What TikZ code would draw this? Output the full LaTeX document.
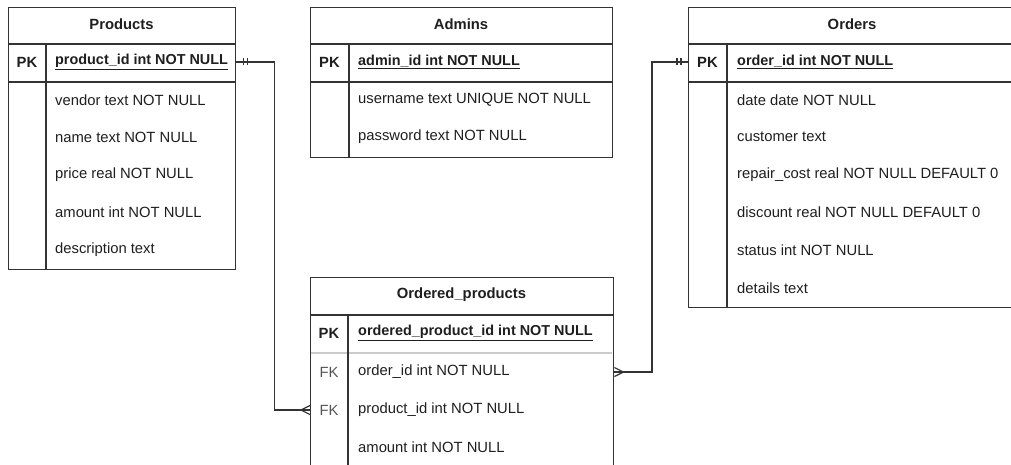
\documentclass[tikz,border=0pt]{standalone}
\usepackage{fontspec}
\setmainfont{Liberation Sans}
\usetikzlibrary{decorations.markings}

\definecolor{edgegray}{HTML}{333333}
\definecolor{softgray}{HTML}{CCCCCC}
\definecolor{inkgray}{HTML}{1E1E1E}
\definecolor{fkgray}{HTML}{555555}

\newcommand{\tblfont}{\fontsize{14.8}{17}\selectfont}
\newcommand{\keyfont}{\fontsize{14.4}{17}\selectfont\bfseries}

\tikzstyle{tbl} = [draw=edgegray, line width=1.3pt, anchor=north west, inner sep=0pt]
\tikzstyle{sep} = [draw=edgegray, line width=1.3pt]
\tikzstyle{hdr} = [font=\tblfont\bfseries, text=inkgray, inner sep=0pt]
\tikzstyle{pk} = [font=\tblfont\bfseries, text=inkgray, inner sep=0pt]
\tikzstyle{fk} = [font=\tblfont, text=fkgray, inner sep=0pt]
\tikzstyle{fld} = [font=\tblfont, anchor=west, text=inkgray, inner sep=0pt]
\tikzstyle{pkfld} = [fld, font=\keyfont]
\tikzstyle{rel} = [draw=edgegray, line width=1.2pt]
% two bars near the start of a relation: exactly one
\tikzstyle{one start} = [postaction={decorate, decoration={markings,
    mark=at position 7pt with {\draw[rel] (0,-3.5pt) -- (0,3.5pt);},
    mark=at position 11pt with {\draw[rel] (0,-3.5pt) -- (0,3.5pt);}}}]
% crow's foot at the end of a relation: many
\tikzstyle{many end} = [postaction={decorate, decoration={markings,
    mark=at position -0.1pt with {\draw[rel] (-9pt,0) -- (0,4.5pt) (-9pt,0) -- (0,-4.5pt);}}}]

\begin{document}
\begin{tikzpicture}[x=1pt, y=-1pt]
    \useasboundingbox (0,0) rectangle (1011,465);
    \clip (0,0) rectangle (1011,465);

    % Products
    \node[tbl, minimum width=227, minimum height=262] (products) at (8,7) {};
    \draw[sep] (8,44) -- (235,44);
    \draw[sep] (8,82) -- (235,82);
    \draw[sep] (46,44) -- (46,269);
    \node[hdr] (products-title) at (121.5,24) {Products};
    \node[pk] (p-key) at (27,62) {PK};
    \node[pkfld] (p-pk) at (55,62) {\underline{product\_id int NOT NULL}};
    \node[fld] (p-vendor) at (55,100) {vendor text NOT NULL};
    \node[fld] (p-name) at (55,137) {name text NOT NULL};
    \node[fld] (p-price) at (55,175) {price real NOT NULL};
    \node[fld] (p-amount) at (55,212) {amount int NOT NULL};
    \node[fld] (p-desc) at (55,250) {description text};

    % Admins
    \node[tbl, minimum width=302, minimum height=150] (admins) at (310,7) {};
    \draw[sep] (310,44) -- (612,44);
    \draw[sep] (310,82) -- (612,82);
    \draw[sep] (349,44) -- (349,157);
    \node[hdr] (admins-title) at (461,24) {Admins};
    \node[pk] (a-key) at (329.5,62) {PK};
    \node[pkfld] (a-pk) at (358,62) {\underline{admin\_id int NOT NULL}};
    \node[fld] (a-user) at (358,100) {username text UNIQUE NOT NULL};
    \node[fld] (a-pass) at (358,137) {password text NOT NULL};

    % Orders
    \node[tbl, minimum width=328, minimum height=300] (orders) at (688,7) {};
    \draw[sep] (688,44) -- (1016,44);
    \draw[sep] (688,82) -- (1016,82);
    \draw[sep] (727,44) -- (727,307);
    \node[hdr] (orders-title) at (852,24) {Orders};
    \node[pk] (o-key) at (707.5,62) {PK};
    \node[pkfld] (o-pk) at (737,62) {\underline{order\_id int NOT NULL}};
    \node[fld] (o-date) at (737,100) {date date NOT NULL};
    \node[fld] (o-customer) at (737,137) {customer text};
    \node[fld] (o-repair) at (737,175) {repair\_cost real NOT NULL DEFAULT 0};
    \node[fld] (o-discount) at (737,212) {discount real NOT NULL DEFAULT 0};
    \node[fld] (o-status) at (737,250) {status int NOT NULL};
    \node[fld] (o-details) at (737,288) {details text};

    % Ordered_products
    \node[tbl, minimum width=303, minimum height=188.5] (ordered) at (310,277) {};
    \draw[sep] (310,315) -- (613,315);
    \draw[sep, draw=softgray] (311,353) -- (612,353);
    \draw[sep] (348,315) -- (348,466);
    \node[hdr] (ordered-title) at (461.5,295) {Ordered\_products};
    \node[pk] (op-key) at (329,333) {PK};
    \node[pkfld] (op-pk) at (358,333) {\underline{ordered\_product\_id int NOT NULL}};
    \node[fk] (op-fk1) at (329,372) {FK};
    \node[fld] (op-order) at (358,372) {order\_id int NOT NULL};
    \node[fk] (op-fk2) at (329,410) {FK};
    \node[fld] (op-product) at (358,410) {product\_id int NOT NULL};
    \node[fld] (op-amount) at (358,447) {amount int NOT NULL};

    % relations
    \draw[rel, one start, many end] (products.east |- p-pk) -- ++(38,0) |- (ordered.west |- op-product);
    \draw[rel, one start, many end] (orders.west |- o-pk) -- ++(-36,0) |- (ordered.east |- op-order);
\end{tikzpicture}
\end{document}
